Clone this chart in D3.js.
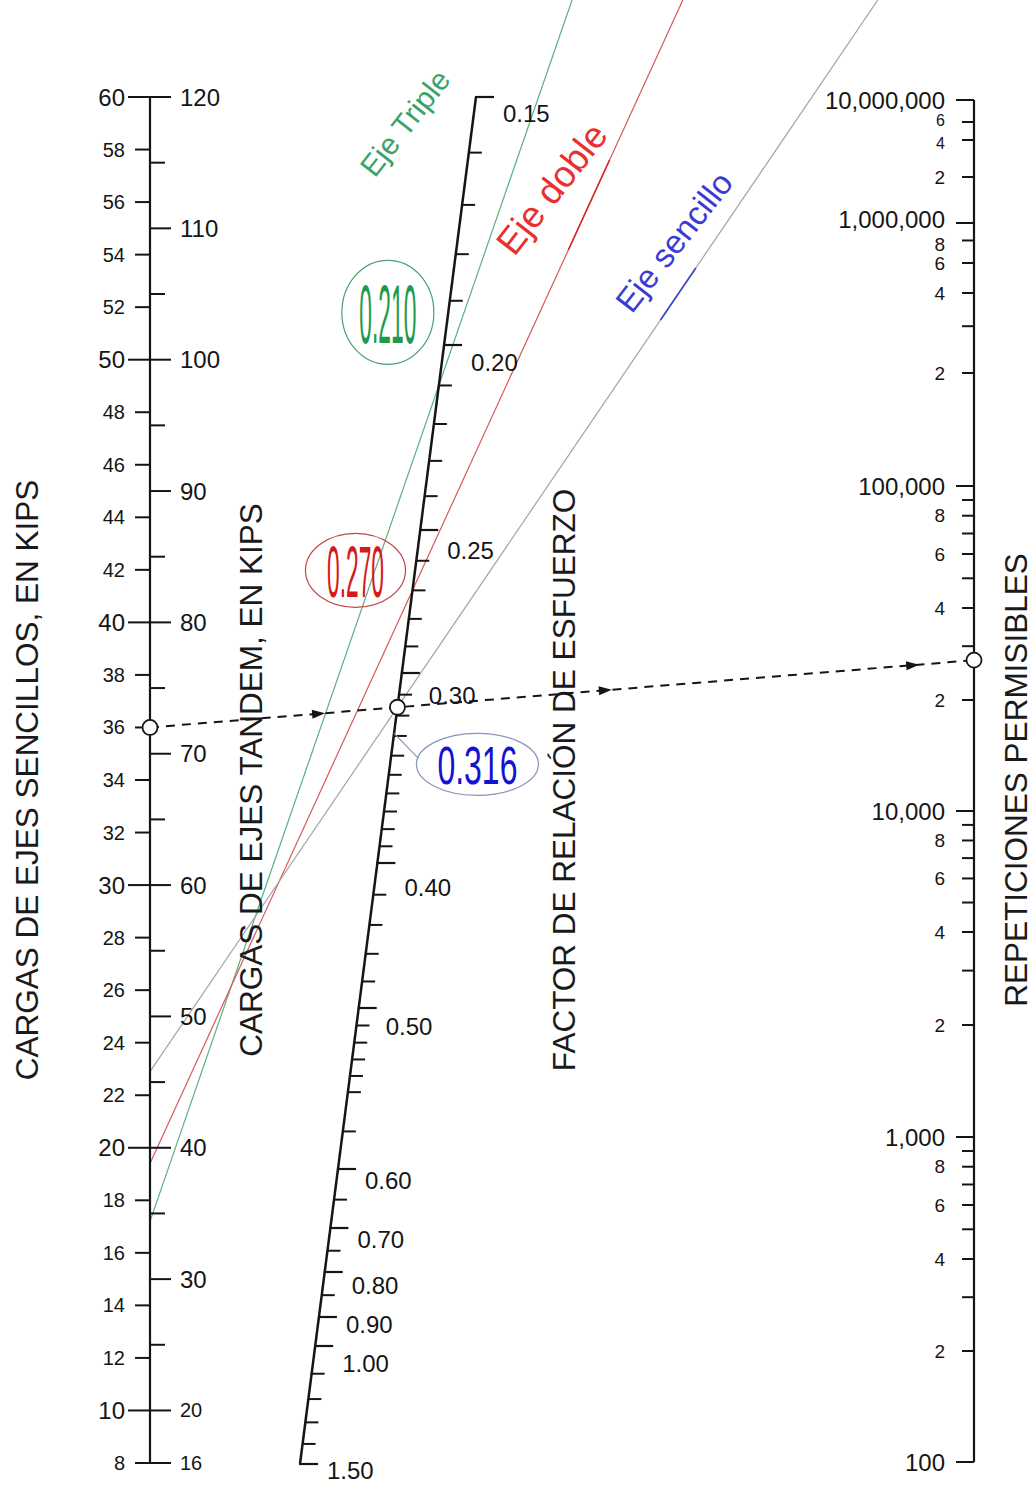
<!DOCTYPE html>
<html><head><meta charset="utf-8">
<script src="https://cdn.jsdelivr.net/npm/d3@7"></script>
<style>body{margin:0;background:#fff}svg{display:block}</style>
</head><body>
<svg id="c" width="1033" height="1486"></svg>
<script>
// ---------------- DATA ----------------
const singleLoadTicks = [8,10,12,14,16,18,20,22,24,26,28,30,32,34,36,38,40,42,44,46,48,50,52,54,56,58,60];
const singleLoadMajor = [10,20,30,40,50,60];
const tandemLabels = [16,20,30,40,50,60,70,80,90,100,110,120];
const tandemMinor = [25,35,45,55,65,75,85,95,105,115];
const factorLabels = [0.15,0.20,0.25,0.30,0.40,0.50,0.60,0.70,0.80,0.90,1.00,1.50];
const factorMinor = [0.16,0.17,0.18,0.19,0.21,0.22,0.23,0.24,0.26,0.27,0.28,0.29,
  0.31,0.32,0.33,0.34,0.35,0.36,0.37,0.38,0.39,0.42,0.44,0.46,0.48,
  0.51,0.52,0.53,0.54,0.55,0.575,0.65,0.75,0.85,1.1,1.2,1.3,1.4];
const repsDecades = [100,1000,10000,100000,1000000,10000000];
const repsDecadeLabels = ["100","1,000","10,000","100,000","1,000,000","10,000,000"];
const repsMinor = [200,300,400,500,600,700,800,900,
  2000,3000,4000,5000,6000,7000,8000,9000,
  20000,30000,40000,50000,60000,70000,80000,90000,
  200000,300000,400000,600000,800000,
  2000000,4000000,6000000];
const repsMinorLabeled = [2,4,6,8];
const axleTypes = ["Eje Triple","Eje doble","Eje sencillo"];
const axleLoadAtLeft = [17.2, 19.4, 22.9];   // kips (single-axle scale) where each line meets the left axis
const axleFactor = [0.210, 0.270, 0.316];    // stress ratio where each line crosses the factor axis
const axleFactorText = ["0.210","0.270","0.316"];
const exampleLoad = 36;        // kips
const exampleReps = 27000;     // allowable repetitions read on right axis

// ---------------- LAYOUT / STYLE ----------------
const FONT = '"Liberation Sans", Arial, Helvetica, sans-serif';
const LX = 150, RX = 974;
const AX_TOP = {x:476, y:97}, AX_BOT = {x:300, y:1464};
const svg = d3.select('#c');
svg.append('rect').attr('width',1033).attr('height',1486).attr('fill','#fff');

const yLoad = d3.scaleLinear().domain([8,60]).range([1463,97]);
const yFactor = d3.scaleLog().domain(factorLabels)
  .range([97,345,530,673,863,1008,1169,1228,1272,1317,1346,1464]);
const factorLabelDy = [16,17,20,22,24,18,11,11,13,7,17,6];
const yReps = d3.scaleLog()
  .domain([100,200,400,1e3,2e3,4e3,1e4,2e4,4e4,1e5,2e5,4e5,6e5,1e6,2e6,4e6,6e6,1e7])
  .range([1462,1351,1259,1137,1025,932,811,700,608,486,373,293,263,223,177,140,122,100]);
const xOnAxis = d3.scaleLinear().domain([AX_TOP.y, AX_BOT.y]).range([AX_TOP.x, AX_BOT.x]);
const repsLabelNudge = {800000:4, 6000000:-2, 4000000:3};

const INK = '#151515';

// ---------------- AXLE LINES ----------------
const lineColors = ['#5aae84','#d9585a','#a3a3a3'];
const overlayColors = [null,'#d8262a','#3a44c8'];
const overlayRanges = [null,[160,250],[268,320]];
const gLines = svg.append('g');
const crossPts = [];
axleTypes.forEach((name,i)=>{
  const P = [LX, yLoad(axleLoadAtLeft[i])];
  const fy = yFactor(axleFactor[i]);
  const Q = [xOnAxis(fy), fy];
  crossPts.push(Q);
  const xAtY = y => P[0] + (Q[0]-P[0])*(P[1]-y)/(P[1]-Q[1]);
  gLines.append('line').attr('x1',P[0]).attr('y1',P[1]).attr('x2',xAtY(0)).attr('y2',0)
    .attr('stroke',lineColors[i]).attr('stroke-width',1.2);
  if (overlayRanges[i]) {
    const [a,b] = overlayRanges[i];
    gLines.append('line').attr('x1',xAtY(b)).attr('y1',b).attr('x2',xAtY(a)).attr('y2',a)
      .attr('stroke',overlayColors[i]).attr('stroke-width',1.6);
  }
});

// ---------------- LEFT AXIS ----------------
const gL = svg.append('g').attr('font-family',FONT).attr('fill',INK);
gL.append('line').attr('x1',LX).attr('x2',LX).attr('y1',yLoad(60)).attr('y2',yLoad(8))
  .attr('stroke',INK).attr('stroke-width',2.2);
singleLoadTicks.forEach(v=>{
  const y = yLoad(v), major = singleLoadMajor.includes(v);
  gL.append('line').attr('x1',LX-(major?22:15)).attr('x2',LX).attr('y1',y).attr('y2',y)
    .attr('stroke',INK).attr('stroke-width',2);
  gL.append('text').attr('x',LX-25).attr('y',y).attr('text-anchor','end')
    .attr('dominant-baseline','central').attr('font-size',major?24:20).text(v);
});
tandemLabels.forEach(t=>{
  const y = yLoad(t/2);
  gL.append('line').attr('x1',LX).attr('x2',LX+21).attr('y1',y).attr('y2',y)
    .attr('stroke',INK).attr('stroke-width',2);
  gL.append('text').attr('x',LX+30).attr('y',y).attr('dominant-baseline','central')
    .attr('font-size',t<=20?20:24).text(t);
});
tandemMinor.forEach(t=>{
  const y = yLoad(t/2);
  gL.append('line').attr('x1',LX).attr('x2',LX+15).attr('y1',y).attr('y2',y)
    .attr('stroke',INK).attr('stroke-width',2);
});

// ---------------- FACTOR (SLANTED) AXIS ----------------
const gF = svg.append('g').attr('font-family',FONT).attr('fill',INK);
gF.append('line').attr('x1',AX_TOP.x).attr('y1',AX_TOP.y).attr('x2',AX_BOT.x).attr('y2',AX_BOT.y)
  .attr('stroke',INK).attr('stroke-width',2.5);
factorMinor.forEach(v=>{
  const y = yFactor(v), x = xOnAxis(y);
  gF.append('line').attr('x1',x).attr('x2',x+13).attr('y1',y).attr('y2',y)
    .attr('stroke',INK).attr('stroke-width',2);
});
factorLabels.forEach((v,i)=>{
  const y = yFactor(v), x = xOnAxis(y);
  gF.append('line').attr('x1',x-1).attr('x2',x+18).attr('y1',y).attr('y2',y)
    .attr('stroke',INK).attr('stroke-width',2.2);
  gF.append('text').attr('x',x+27).attr('y',y+factorLabelDy[i]).attr('dominant-baseline','central')
    .attr('font-size',24).text(v.toFixed(2));
});

// ---------------- RIGHT AXIS ----------------
const gR = svg.append('g').attr('font-family',FONT).attr('fill',INK);
gR.append('line').attr('x1',RX).attr('x2',RX).attr('y1',yReps(1e7)).attr('y2',yReps(100))
  .attr('stroke',INK).attr('stroke-width',2.2);
repsDecades.forEach((v,i)=>{
  const y = yReps(v);
  gR.append('line').attr('x1',RX-18).attr('x2',RX).attr('y1',y).attr('y2',y)
    .attr('stroke',INK).attr('stroke-width',2);
  gR.append('text').attr('x',RX-29).attr('y',y-(v===1e6?4:0)).attr('text-anchor','end')
    .attr('dominant-baseline','central').attr('font-size',24).text(repsDecadeLabels[i]);
});
repsMinor.forEach(v=>{
  const y = yReps(v);
  gR.append('line').attr('x1',RX-12).attr('x2',RX).attr('y1',y).attr('y2',y)
    .attr('stroke',INK).attr('stroke-width',2);
  const d = Math.round(v/Math.pow(10,Math.floor(Math.log10(v)+1e-9)));
  if (repsMinorLabeled.includes(d)) {
    gR.append('text').attr('x',RX-29).attr('y',y+(repsLabelNudge[v]||0)).attr('text-anchor','end')
      .attr('dominant-baseline','central').attr('font-size',v>=4e6?16:19).text(d);
  }
});

// ---------------- AXIS TITLES ----------------
const titles = [
  {t:'CARGAS DE EJES SENCILLOS, EN KIPS', x:27},
  {t:'CARGAS DE EJES TANDEM, EN KIPS', x:251},
  {t:'FACTOR DE RELACIÓN DE ESFUERZO', x:564},
  {t:'REPETICIONES PERMISIBLES', x:1016}
];
titles.forEach(d=>{
  svg.append('text').attr('transform',`translate(${d.x},780) rotate(-90)`)
    .attr('text-anchor','middle').attr('dominant-baseline','central')
    .attr('font-family',FONT).attr('font-size',31.5).attr('fill','#1a1a1a').text(d.t);
});

// ---------------- EXAMPLE (DASHED) ----------------
const P = [LX, yLoad(exampleLoad)], R = [RX, yReps(exampleReps)];
const b = (AX_BOT.x-AX_TOP.x)/(AX_BOT.y-AX_TOP.y), a = AX_TOP.x - b*AX_TOP.y;
const dx = R[0]-P[0], dy = R[1]-P[1];
const tM = (a + b*P[1] - P[0])/(dx - b*dy);
const M = [P[0]+tM*dx, P[1]+tM*dy];
svg.append('line').attr('x1',P[0]).attr('y1',P[1]).attr('x2',R[0]).attr('y2',R[1])
  .attr('stroke',INK).attr('stroke-width',2).attr('stroke-dasharray','9,7');
const ang = Math.atan2(dy,dx)*180/Math.PI;
[0.204,0.552,0.925].forEach(t=>{
  svg.append('path').attr('d','M7,0 L-6,-4.5 L-6,4.5 Z').attr('fill',INK)
    .attr('transform',`translate(${P[0]+t*dx},${P[1]+t*dy}) rotate(${ang})`);
});
[P,M,R].forEach(p=>{
  svg.append('circle').attr('cx',p[0]).attr('cy',p[1]).attr('r',7.5)
    .attr('fill','#fff').attr('stroke',INK).attr('stroke-width',1.8);
});

// ---------------- ANNOTATIONS ----------------
const annOffsets = [[-51,-73],[-57,-20],[80,57]];
const annR = [[46,52],[50,37],[61,31]];
const annStroke = ['#4a9e72','#c34848','#8894b8'];
const annFill = ['#1f9a4c','#d41a1a','#1212d2'];
const annScale = [[0.57,2.1],[0.57,1.82],[0.8,1.36]];
axleTypes.forEach((n,i)=>{
  const cx = crossPts[i][0]+annOffsets[i][0], cy = crossPts[i][1]+annOffsets[i][1];
  if (i===2) {
    svg.append('line').attr('x1',cx-annR[i][0]+2).attr('y1',cy-6)
      .attr('x2',xOnAxis(crossPts[i][1]+26)).attr('y2',crossPts[i][1]+26)
      .attr('stroke',annStroke[i]).attr('stroke-width',1.2);
  }
  svg.append('ellipse').attr('cx',cx).attr('cy',cy).attr('rx',annR[i][0]).attr('ry',annR[i][1])
    .attr('fill','none').attr('stroke',annStroke[i]).attr('stroke-width',1.2);
  svg.append('g').attr('transform',`translate(${cx},${cy+1}) scale(${annScale[i][0]},${annScale[i][1]})`)
    .append('text').attr('text-anchor','middle').attr('dominant-baseline','central')
    .attr('font-family',FONT).attr('font-size',40).attr('fill',annFill[i]).text(axleFactorText[i]);
});

// rotated axle-type labels
const typeLabelPos = [[405,123,30,'#3aa36a'],[552,189,37,'#e8302e'],[674,242,33,'#3a3ad6']];
axleTypes.forEach((n,i)=>{
  const [x,y,fs,c] = typeLabelPos[i];
  svg.append('text').attr('transform',`translate(${x},${y}) rotate(-52)`)
    .attr('text-anchor','middle').attr('dominant-baseline','central')
    .attr('font-family',FONT).attr('font-size',fs).attr('fill',c).text(n);
});
</script>
</body></html>
